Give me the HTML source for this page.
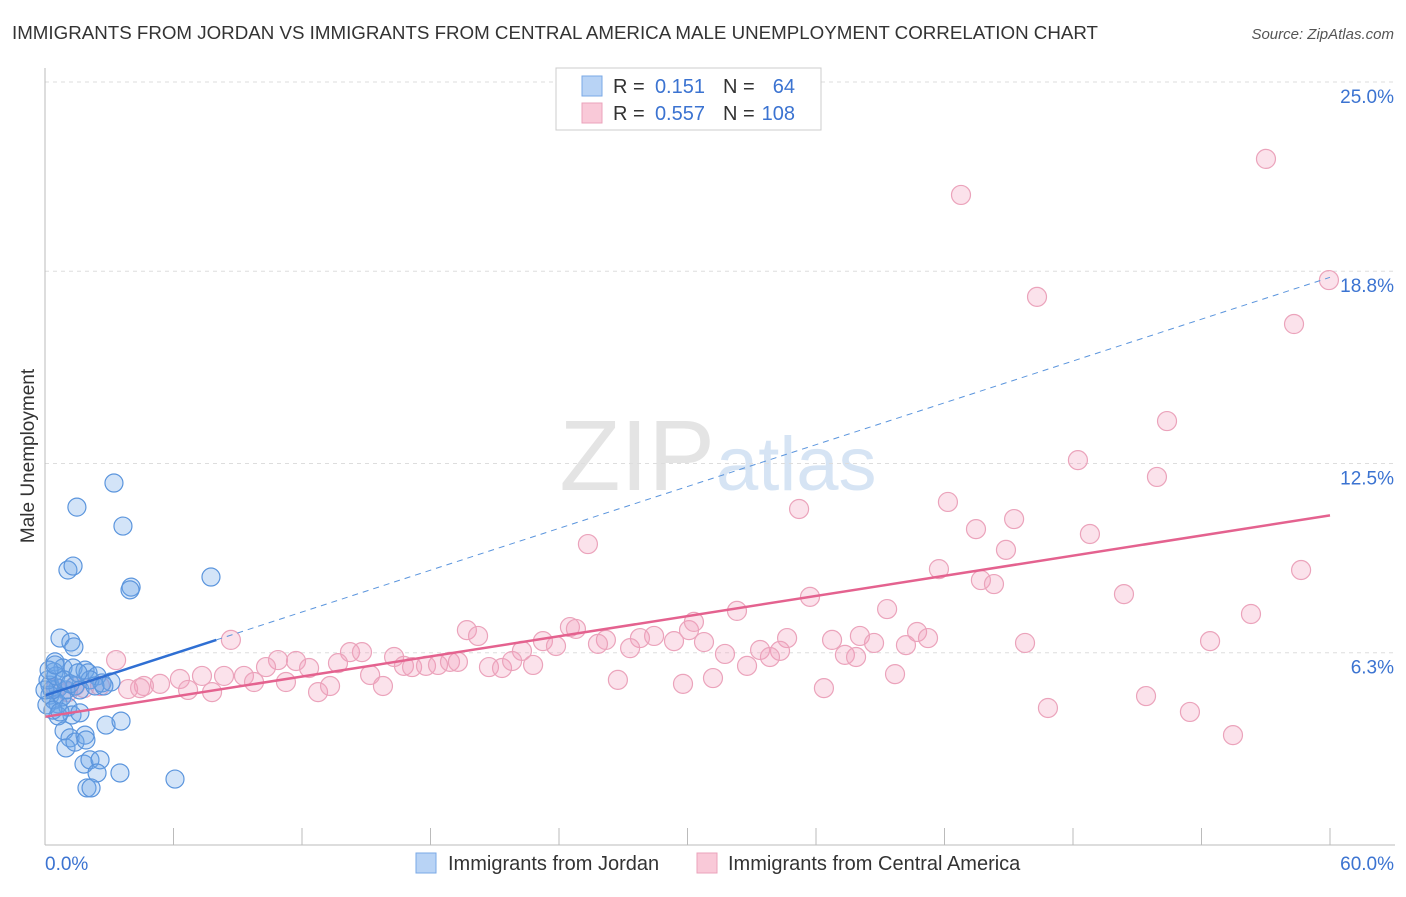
<!DOCTYPE html>
<html><head><meta charset="utf-8"><style>
body{margin:0;background:#fff;font-family:"Liberation Sans",sans-serif}
svg text{font-family:"Liberation Sans",sans-serif}
</style></head><body>
<svg id="c" width="1406" height="892">
<text x="12" y="39" font-size="18" fill="#333" textLength="1086" lengthAdjust="spacingAndGlyphs">IMMIGRANTS FROM JORDAN VS IMMIGRANTS FROM CENTRAL AMERICA MALE UNEMPLOYMENT CORRELATION CHART</text>
<text x="1394" y="39" font-size="15" fill="#555" font-style="italic" text-anchor="end">Source: ZipAtlas.com</text>
<text x="715" y="490" font-size="100" fill="#e4e4e4" text-anchor="end" font-family="Liberation Serif">ZIP</text>
<text x="716" y="490" font-size="76" fill="#d6e4f4">atlas</text>
<text x="34" y="456" font-size="19" fill="#333" transform="rotate(-90 34 456)" text-anchor="middle">Male Unemployment</text>
<g id="grid"></g><g id="pts"></g><g id="lines"></g>
<line x1="45" y1="68" x2="45" y2="845" stroke="#bbb"/>
<line x1="45" y1="845" x2="1395" y2="845" stroke="#bbb"/>
<text x="45" y="870" font-size="19" fill="#3b73d1">0.0%</text>
<text x="1394" y="870" font-size="19" fill="#3b73d1" text-anchor="end">60.0%</text>
<g>
<rect x="556" y="68" width="265" height="62" fill="#fff" stroke="#ccc"/>
<rect x="582" y="76" width="20" height="20" fill="#b8d3f5" stroke="#7aa8e6"/>
<rect x="582" y="103" width="20" height="20" fill="#f9c9d8" stroke="#eba3bb"/>
<text x="613" y="93" font-size="20" fill="#333">R =</text><text x="705" y="93" font-size="20" fill="#3b73d1" text-anchor="end">0.151</text>
<text x="723" y="93" font-size="20" fill="#333">N =</text><text x="795" y="93" font-size="20" fill="#3b73d1" text-anchor="end">64</text>
<text x="613" y="120" font-size="20" fill="#333">R =</text><text x="705" y="120" font-size="20" fill="#3b73d1" text-anchor="end">0.557</text>
<text x="723" y="120" font-size="20" fill="#333">N =</text><text x="795" y="120" font-size="20" fill="#3b73d1" text-anchor="end">108</text>
</g>
<g>
<rect x="416" y="853" width="20" height="20" fill="#b8d3f5" stroke="#7aa8e6"/>
<text x="448" y="870" font-size="20" fill="#333">Immigrants from Jordan</text>
<rect x="697" y="853" width="20" height="20" fill="#f9c9d8" stroke="#eba3bb"/>
<text x="728" y="870" font-size="20" fill="#333">Immigrants from Central America</text>
</g>
</svg>
<script>
const yTicks=[25.0,18.8,12.5,6.3];
const yTickLabels=["25.0%","18.8%","12.5%","6.3%"];
const xTicks=[0,6,12,18,24,30,36,42,48,54,60];
const jordanPx=[[114,483],[77,507],[123,526],[68,570],[73,566],[211,577],[131,587],[130,590],[60,638],[71,642],[74,647],[55,662],[63,668],[54,672],[73,668],[85,670],[88,673],[97,676],[102,683],[111,682],[50,685],[58,688],[66,690],[75,686],[50,695],[54,700],[58,704],[62,697],[68,707],[72,715],[80,713],[58,716],[64,731],[70,738],[66,748],[75,742],[85,735],[106,725],[121,721],[84,764],[90,760],[100,760],[97,773],[120,773],[87,788],[91,788],[175,779],[52,690],[48,680],[56,676],[64,680],[70,684],[80,690],[90,680],[47,705],[53,710],[60,712],[49,670],[45,690],[95,686],[104,686],[55,665],[78,673],[86,740]];
const centralPx=[[1266,159],[961,195],[1037,297],[1329,280],[1294,324],[1167,421],[1078,460],[1157,477],[948,502],[799,509],[1014,519],[976,529],[1090,534],[588,544],[1006,550],[939,569],[1301,570],[981,580],[994,584],[810,597],[1124,594],[737,611],[887,609],[1251,614],[467,630],[478,636],[570,627],[576,629],[689,630],[694,622],[860,636],[917,632],[928,638],[654,636],[640,638],[606,640],[598,644],[543,641],[556,646],[522,651],[231,640],[787,638],[832,640],[874,643],[906,645],[1025,643],[1210,641],[704,642],[674,641],[630,648],[760,650],[780,651],[845,655],[856,657],[770,657],[725,654],[747,666],[350,652],[362,652],[338,663],[296,661],[278,660],[266,667],[309,668],[394,657],[404,666],[412,667],[426,666],[438,665],[450,662],[458,662],[489,667],[502,668],[512,661],[533,665],[370,675],[383,686],[224,676],[202,676],[180,679],[244,676],[254,682],[286,682],[318,692],[330,686],[618,680],[683,684],[713,678],[895,674],[824,688],[1048,708],[1146,696],[1190,712],[1233,735],[116,660],[100,686],[160,684],[144,686],[128,689],[188,690],[212,692],[140,688],[84,688],[68,692],[75,686],[56,688]];
const jordanX=jordanPx.map(p=>+((p[0]-45)/1285*60).toFixed(2));
const jordanY=jordanPx.map(p=>+((845-p[1])/763*25).toFixed(2));
const centralX=centralPx.map(p=>+((p[0]-45)/1285*60).toFixed(2));
const centralY=centralPx.map(p=>+((845-p[1])/763*25).toFixed(2));
const jordanTrend=[[0,4.9],[8.0,6.72],[60,18.6]];
const centralTrend=[[0,4.2],[60,10.8]];
const sx=v=>45+v/60*1285, sy=v=>845-v/25*763;
const NS='http://www.w3.org/2000/svg';
function mk(tag,attrs,parent){const e=document.createElementNS(NS,tag);for(const k in attrs)e.setAttribute(k,attrs[k]);parent.appendChild(e);return e;}
const grid=document.getElementById('grid');
yTicks.forEach((t,i)=>{
 const l=mk('line',{x1:45,x2:1395,y1:sy(t),y2:sy(t),stroke:'#ddd','stroke-dasharray':'4,4'},grid);
 
 
 const tx=mk('text',{x:1394,y:sy(t)+21,'font-size':19,fill:'#3b73d1','text-anchor':'end'},grid);
 tx.textContent=yTickLabels[i];
 
 
});
xTicks.forEach(t=>{
 const l=mk('line',{x1:sx(t),x2:sx(t),y1:828,y2:845,stroke:'#bbb'},grid);
 
 
});
const pts=document.getElementById('pts');
centralX.forEach((x,i)=>{
 const c=mk('circle',{cx:sx(x),cy:sy(centralY[i]),r:9.5,fill:'rgba(242,160,188,0.3)',stroke:'#eba3bb','stroke-width':1.2},pts);
 
 
});
jordanX.forEach((x,i)=>{
 const c=mk('circle',{cx:sx(x),cy:sy(jordanY[i]),r:9,fill:'rgba(110,165,232,0.3)',stroke:'#5b95dd','stroke-width':1.2},pts);
 
 
});
const lines=document.getElementById('lines');
const b1=mk('line',{x1:sx(jordanTrend[0][0]),y1:sy(jordanTrend[0][1]),x2:sx(jordanTrend[1][0]),y2:sy(jordanTrend[1][1]),stroke:'#2f6fd3','stroke-width':2.5},lines);


const b2=mk('line',{x1:sx(jordanTrend[1][0]),y1:sy(jordanTrend[1][1]),x2:sx(jordanTrend[2][0]),y2:sy(jordanTrend[2][1]),stroke:'#5b95dd','stroke-width':1,'stroke-dasharray':'6,5'},lines);


const p1=mk('line',{x1:sx(centralTrend[0][0]),y1:sy(centralTrend[0][1]),x2:sx(centralTrend[1][0]),y2:sy(centralTrend[1][1]),stroke:'#e4628f','stroke-width':2.5},lines);


</script>
</body></html>
